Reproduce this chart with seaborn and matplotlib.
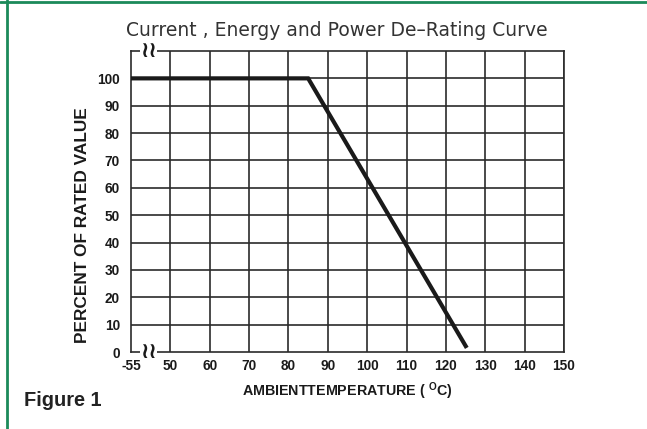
import matplotlib
matplotlib.use("Agg")
import matplotlib.pyplot as plt
import seaborn as sns
import pandas as pd

# chart data (axis is broken: the first tick stands for -55 C)
temp_pos = [40, 85, 125.3]
rated_pct = [100, 100, 1.5]
x_ticks = [40, 50, 60, 70, 80, 90, 100, 110, 120, 130, 140, 150]
x_tick_labels = ["-55", "50", "60", "70", "80", "90", "100", "110", "120", "130", "140", "150"]
y_ticks = [0, 10, 20, 30, 40, 50, 60, 70, 80, 90, 100]

sns.set_style("white")
plt.rcParams['font.family'] = ['Liberation Sans', 'DejaVu Sans']
plt.rcParams['mathtext.fontset'] = 'custom'
plt.rcParams['mathtext.bf'] = 'Liberation Sans:bold'
plt.rcParams['mathtext.rm'] = 'Liberation Sans:bold'

df = pd.DataFrame({"temp": temp_pos, "pct": rated_pct})

fig = plt.figure(figsize=(6.47, 4.29), dpi=100)
ax = fig.add_axes([131 / 647, 1 - 352 / 429, 433 / 647, 301 / 429])

grid_col = "#2b2b2b"
# grid lines drawn at every tick
for xv in x_ticks[1:]:
    ax.axvline(xv, color=grid_col, lw=1.2, zorder=1)
for yv in y_ticks[1:]:
    ax.axhline(yv, color=grid_col, lw=1.2, zorder=1)

sns.lineplot(data=df, x="temp", y="pct", ax=ax, sort=False, color="#1a1a1a",
             linewidth=3.0, zorder=3, solid_capstyle="butt", solid_joinstyle="miter")

ax.set_xlim(40, 150)
ax.set_ylim(0, 110)
ax.set_xticks(x_ticks)
ax.set_xticklabels(x_tick_labels)
ax.set_yticks(y_ticks)
for sp in ax.spines.values():
    sp.set_color(grid_col)
    sp.set_linewidth(1.2)
ax.tick_params(axis="x", length=0, pad=5)
ax.tick_params(axis="y", length=0, pad=8)
for lab in ax.get_xticklabels() + ax.get_yticklabels():
    lab.set_fontweight("bold")
    lab.set_fontsize(9.8)
    lab.set_color("#1a1a1a")
ax.set_xlabel("")
ax.set_ylabel("")

fig.text(347 / 647, 1 - 391 / 429, r"AMBIENTTEMPERATURE ( $^{\mathbf{O}}$C)",
         ha="center", va="center", fontweight="bold", fontsize=10.3, color="#1a1a1a")
ax.text(-0.113, 0.422, "PERCENT OF RATED VALUE", transform=ax.transAxes, rotation=90,
        ha="center", va="center", fontweight="bold", fontsize=12.4, color="#1a1a1a")

# axis break marks
for yb in [0, 110]:
    ax.text(44.5, yb, "\u2240\u2240", ha="center", va="center", fontsize=16,
            fontfamily="DejaVu Sans", fontweight="bold", color="#1a1a1a",
            bbox=dict(facecolor="white", edgecolor="none", pad=0.1), zorder=5, clip_on=False)

fig.text(337 / 647, 1 - 30 / 429, "Current , Energy and Power De\u2013Rating Curve",
         ha="center", va="center", fontsize=13.5, fontfamily="DejaVu Sans", color="#333333")
fig.text(24 / 647, 1 - 400 / 429, "Figure 1", ha="left", va="center",
         fontsize=14.4, fontweight="bold", color="#222222")

# green frame on the top and left
green = "#1b8a5a"
fig.add_artist(plt.Line2D([7 / 647, 7 / 647], [0, 1], color=green, lw=2, transform=fig.transFigure))
fig.add_artist(plt.Line2D([0, 1], [1 - 1.5 / 429, 1 - 1.5 / 429], color=green, lw=2, transform=fig.transFigure))

fig.savefig("out.png", dpi=100)
